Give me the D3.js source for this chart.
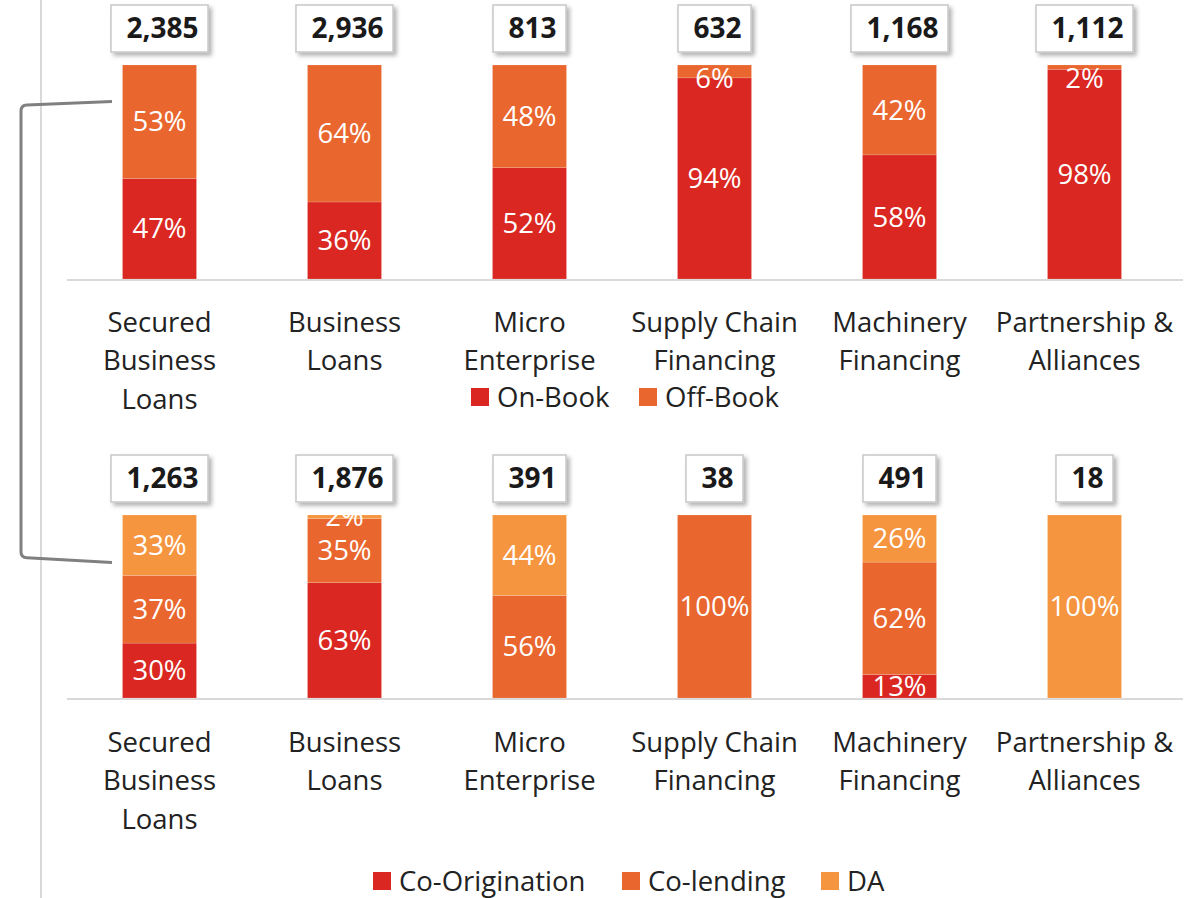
<!DOCTYPE html>
<html>
<head>
<meta charset="utf-8">
<script src="https://cdn.jsdelivr.net/npm/d3@7"></script>
<style>
    html, body { margin: 0; padding: 0; background: #fff; }
    svg { display: block; font-family: "Open Sans", "Noto Sans", sans-serif; }
</style>
</head>
<body>
<svg id="chart" width="1200" height="898"></svg>
<script>
(function () {

    // shared categories (lines broken as in the original)
    var categories = [
        'Secured Business Loans', 'Business Loans', 'Micro Enterprise',
        'Supply Chain Financing', 'Machinery Financing', 'Partnership & Alliances'
    ];
    var categoryLines = [
        ['Secured', 'Business', 'Loans'],
        ['Business', 'Loans'],
        ['Micro', 'Enterprise'],
        ['Supply Chain', 'Financing'],
        ['Machinery', 'Financing'],
        ['Partnership &', 'Alliances']
    ];

    // top chart: book split
    var bookSeries = ['On-Book', 'Off-Book'];
    var onBook = [47, 36, 52, 94, 58, 98];
    var offBook = [53, 64, 48, 6, 42, 2];
    var bookTotals = [2385, 2936, 813, 632, 1168, 1112];

    // bottom chart: off-book split
    var offSeries = ['Co-Origination', 'Co-lending', 'DA'];
    var coOrigination = [30, 63, 0, 0, 13, 0];
    var coLending = [37, 35, 56, 100, 62, 0];
    var da = [33, 2, 44, 0, 26, 100];
    var offTotals = [1263, 1876, 391, 38, 491, 18];

    var colors = ['#da2721', '#e9662e', '#f5953f'];

    var svg = d3.select('#chart');

    var defs = svg.append('defs');
    defs.append('filter')
        .attr('id', 'shadow')
        .attr('x', '-20%').attr('y', '-20%')
        .attr('width', '150%').attr('height', '160%')
        .append('feDropShadow')
        .attr('dx', 3).attr('dy', 3)
        .attr('stdDeviation', 2)
        .attr('flood-color', '#000')
        .attr('flood-opacity', 0.3);

    // faint frame line on the left
    svg.append('line')
        .attr('x1', 41).attr('x2', 41)
        .attr('y1', 0).attr('y2', 898)
        .attr('stroke', '#d9d9d9')
        .attr('stroke-width', 2);

    // bracket joining the two panels
    svg.append('path')
        .attr('d', 'M112,101.5 L27,105 Q21,105.3 21,111 L21,552 Q21,557.5 27,557.7 L112,562.5')
        .attr('fill', 'none')
        .attr('stroke', '#808080')
        .attr('stroke-width', 3);

    var x = d3.scaleBand()
        .domain(categories)
        .range([67, 1177])
        .paddingInner(0.6)
        .paddingOuter(0.3);

    function drawPanel(opts) {
        var keys = opts.series;
        var rows = categories.map(function (c, i) {
            var row = { category: c, total: opts.totals[i] };
            var sum = 0;
            keys.forEach(function (k, j) {
                row[k] = opts.values[j][i];
                sum += row[k];
            });
            row.sum = sum;
            return row;
        });

        var y = d3.scaleLinear().domain([0, 1]).range([opts.bottom, opts.top]);

        var stack = d3.stack()
            .keys(keys)
            .value(function (d, k) { return d[k] / d.sum; });

        var layers = stack(rows);

        var g = svg.append('g');

        var clipId = 'clip-' + opts.name;
        defs.append('clipPath')
            .attr('id', clipId)
            .append('rect')
            .attr('x', 60).attr('width', 1140)
            .attr('y', opts.top).attr('height', opts.bottom - opts.top);

        g.append('line')
            .attr('x1', 67).attr('x2', 1183)
            .attr('y1', opts.bottom + 1).attr('y2', opts.bottom + 1)
            .attr('stroke', '#d9d9d9')
            .attr('stroke-width', 2);

        var layerG = g.selectAll('g.layer')
            .data(layers)
            .join('g')
            .attr('class', 'layer')
            .attr('fill', function (d, i) { return colors[i]; });

        layerG.selectAll('rect')
            .data(function (d) { return d.filter(function (s) { return s[1] - s[0] > 0; }); })
            .join('rect')
            .attr('x', function (d) { return x(d.data.category); })
            .attr('width', x.bandwidth())
            .attr('y', function (d) { return y(d[1]); })
            .attr('height', function (d) { return y(d[0]) - y(d[1]); })
            .attr('stroke', '#fff')
            .attr('stroke-opacity', 0.25)
            .attr('stroke-width', 0.6);

        var labelG = g.append('g').attr('clip-path', 'url(#' + clipId + ')');
        layers.forEach(function (layer) {
            labelG.selectAll(null)
                .data(layer.filter(function (s) { return s[1] - s[0] > 0; }))
                .join('text')
                .attr('x', function (d) { return x(d.data.category) + x.bandwidth() / 2; })
                .attr('y', function (d) {
                    var c = (y(d[0]) + y(d[1])) / 2;
                    return opts.clamp ? Math.max(c, opts.top + 13) : c;
                })
                .attr('dy', '0.35em')
                .attr('text-anchor', 'middle')
                .attr('fill', '#fff')
                .attr('font-size', 27.5)
                .text(function (d) { return d.data[layer.key] + '%'; });
        });

        // total boxes
        var boxes = g.selectAll('g.total')
            .data(rows)
            .join('g')
            .attr('class', 'total')
            .attr('transform', function (d) {
                return 'translate(' + (x(d.category) + x.bandwidth() / 2) + ',' + opts.boxTop + ')';
            });

        boxes.append('rect')
            .attr('fill', '#fff')
            .attr('stroke', '#c8c8c8')
            .attr('stroke-width', 1.5)
            .attr('filter', 'url(#shadow)')
            .attr('y', 0)
            .attr('height', 47);

        var boxText = boxes.append('text')
            .attr('x', 3)
            .attr('y', 23.5)
            .attr('dy', '0.35em')
            .attr('text-anchor', 'middle')
            .attr('font-weight', 'bold')
            .attr('font-size', 28)
            .attr('fill', '#1a1a1a')
            .text(function (d) { return d3.format(',')(d.total); });

        boxText.each(function () {
            var w = this.getComputedTextLength() + 25;
            d3.select(this.parentNode).select('rect')
                .attr('x', -w / 2)
                .attr('width', w);
        });

        // category labels
        g.selectAll('text.cat')
            .data(categories)
            .join('text')
            .attr('class', 'cat')
            .attr('text-anchor', 'middle')
            .attr('fill', '#222')
            .attr('font-size', 27.5)
            .attr('transform', function (d) {
                return 'translate(' + (x(d) + x.bandwidth() / 2) + ',' + opts.labelTop + ')';
            })
            .each(function (d, i) {
                var t = d3.select(this);
                categoryLines[i].forEach(function (line, j) {
                    t.append('tspan')
                        .attr('x', 0)
                        .attr('y', j * 38.5)
                        .attr('dy', '0.35em')
                        .text(line);
                });
            });

        // legend
        var legend = g.append('g')
            .attr('transform', 'translate(0,' + opts.legendY + ')');
        var item = legend.selectAll('g')
            .data(keys)
            .join('g')
            .attr('transform', function (d, i) { return 'translate(' + opts.legendX[i] + ',0)'; });
        item.append('rect')
            .attr('x', 0).attr('y', -9)
            .attr('width', 18).attr('height', 18)
            .attr('fill', function (d, i) { return colors[i]; });
        item.append('text')
            .attr('x', 26)
            .attr('dy', '0.35em')
            .attr('font-size', 27.5)
            .attr('fill', '#222')
            .text(function (d) { return d; });
    }

    drawPanel({
        name: 'book',
        series: bookSeries,
        values: [onBook, offBook],
        totals: bookTotals,
        top: 65, bottom: 279,
        boxTop: 5,
        labelTop: 322,
        legendY: 397,
        legendX: [471, 639],
        clamp: true
    });

    drawPanel({
        name: 'off',
        series: offSeries,
        values: [coOrigination, coLending, da],
        totals: offTotals,
        top: 515, bottom: 698,
        boxTop: 455,
        labelTop: 742,
        legendY: 881,
        legendX: [373, 622, 821],
        clamp: false
    });

})();
</script>
</body>
</html>
